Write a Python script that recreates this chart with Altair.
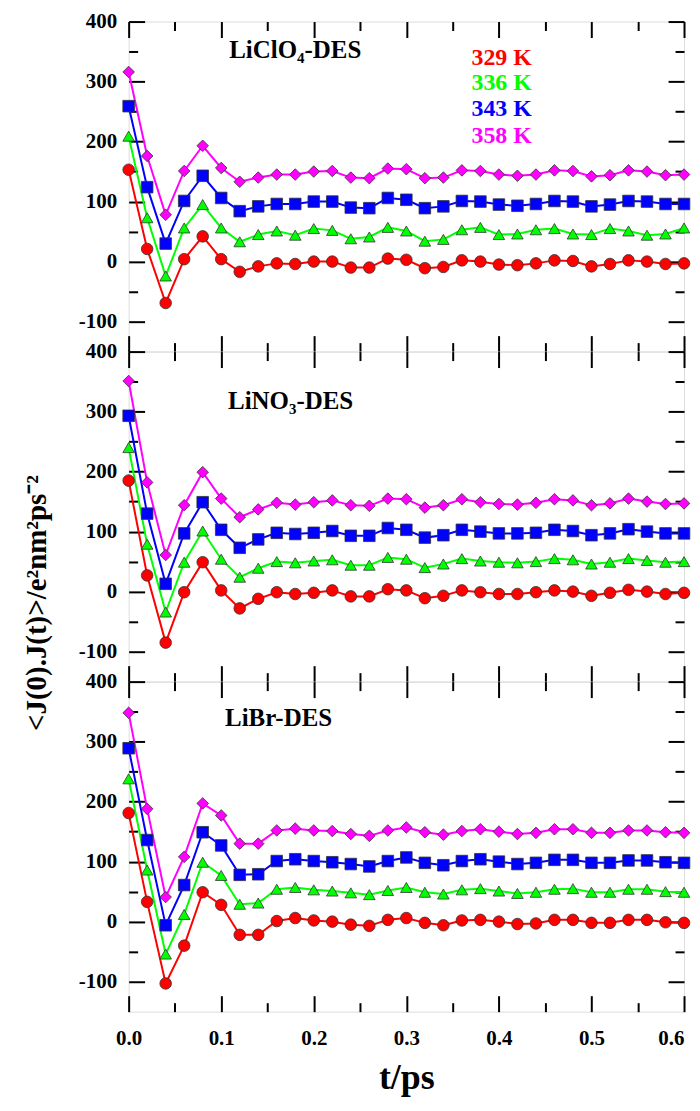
import altair as alt
import pandas as pd

# ---------------- data ----------------
t_ps = [0.00, 0.02, 0.04, 0.06, 0.08, 0.10, 0.12, 0.14, 0.16, 0.18, 0.20,
        0.22, 0.24, 0.26, 0.28, 0.30, 0.32, 0.34, 0.36, 0.38, 0.40,
        0.42, 0.44, 0.46, 0.48, 0.50, 0.52, 0.54, 0.56, 0.58, 0.60]
temps = ["329 K", "336 K", "343 K", "358 K"]
colors = ["#FF0000", "#00FF00", "#0000FF", "#FF00FF"]
shapes = ["circle", "triangle-up", "square", "diamond"]
marker_sizes = [135, 135, 110, 180]
panel_names = ["LiClO₄-DES", "LiNO₃-DES", "LiBr-DES"]
y_title = "<J(0).J(t)>/e²nm²ps⁻²"
x_title = "t/ps"

liclo4_329 = [153, 21, -69, 4, 42, 4, -17, -8, -3, -4, 0, 0, -10, -10, 5, 3, -11, -9, 2, 0, -5, -6, -3, 2, 1, -8, -4, 2, 0, -4, -3]
liclo4_336 = [209, 73, -24, 56, 95, 56, 33, 45, 51, 44, 55, 52, 38, 41, 57, 51, 34, 37, 53, 57, 45, 46, 53, 55, 46, 45, 55, 51, 44, 46, 56]
liclo4_343 = [259, 124, 30, 101, 143, 106, 84, 92, 96, 96, 100, 100, 90, 89, 106, 103, 89, 92, 101, 100, 95, 93, 96, 101, 100, 92, 95, 101, 100, 96, 96]
liclo4_358 = [316, 176, 78, 151, 193, 156, 133, 140, 145, 145, 150, 151, 140, 139, 155, 154, 139, 140, 152, 151, 145, 143, 145, 152, 151, 142, 144, 152, 150, 144, 145]

lino3_329 = [185, 27, -85, -1, 49, 2, -28, -12, -1, -4, -2, 2, -8, -8, 4, 2, -11, -7, 2, -1, -4, -4, -1, 2, 0, -7, -2, 3, 0, -4, -2]
lino3_336 = [240, 79, -34, 49, 101, 54, 24, 39, 50, 48, 51, 53, 44, 44, 57, 54, 40, 46, 55, 51, 49, 48, 50, 55, 53, 46, 49, 55, 52, 49, 50]
lino3_343 = [293, 130, 13, 97, 149, 103, 73, 87, 98, 96, 98, 101, 93, 93, 106, 103, 90, 94, 103, 100, 97, 97, 98, 103, 101, 94, 97, 104, 100, 97, 97]
lino3_358 = [351, 182, 61, 144, 199, 155, 124, 137, 148, 145, 149, 152, 144, 143, 155, 154, 140, 144, 154, 149, 146, 145, 148, 154, 152, 144, 147, 155, 150, 146, 147]

libr_329 = [181, 33, -103, -40, 49, 28, -22, -22, 1, 6, 2, 0, -5, -7, 3, 6, -2, -6, 2, 3, 0, -4, -3, 3, 3, -2, -2, 3, 3, -1, -2]
libr_336 = [238, 86, -54, 12, 99, 77, 29, 31, 54, 57, 53, 51, 48, 45, 52, 57, 49, 46, 53, 55, 51, 47, 49, 54, 55, 49, 49, 54, 54, 50, 49]
libr_343 = [289, 136, -6, 61, 149, 127, 78, 79, 101, 104, 101, 99, 96, 92, 101, 107, 98, 94, 101, 104, 100, 96, 98, 103, 103, 98, 98, 102, 102, 99, 98]
libr_358 = [348, 188, 41, 108, 197, 177, 130, 130, 152, 155, 152, 151, 146, 143, 152, 157, 149, 145, 151, 154, 150, 146, 148, 154, 154, 148, 148, 152, 152, 149, 148]

panel_series = [
    [liclo4_329, liclo4_336, liclo4_343, liclo4_358],
    [lino3_329, lino3_336, lino3_343, lino3_358],
    [libr_329, libr_336, libr_343, libr_358],
]

# annotation anchors (data units)
name_t = [0.18, 0.175, 0.162]
name_v = [352, 318, 339]
legend_t = [0.403, 0.403, 0.403, 0.403]
legend_v = [340, 297, 254, 210]

x_major = [0.0, 0.1, 0.2, 0.3, 0.4, 0.5, 0.6]
x_minor = [0.05, 0.15, 0.25, 0.35, 0.45, 0.55]
y_major = [-100, 0, 100, 200, 300, 400]
y_minor = [-50, 50, 150, 250, 350]

FONT = "Liberation Serif"
W, H = 557, 331
xdom = [0, 0.6]
ydom = [-150, 400]
MAJ, MIN = 16, 9

cscale = alt.Scale(domain=temps, range=colors)
sscale = alt.Scale(domain=temps, range=shapes)
zscale = alt.Scale(domain=temps, range=marker_sizes)


def axis(values, size, orient, labels=False, title=None, **kw):
    opts = dict(values=values, tickSize=size, offset=-size, orient=orient,
                domain=False, grid=False, ticks=True, tickColor="black",
                tickWidth=2, labels=labels, labelFont=FONT, labelFontSize=21,
                labelFontWeight="bold", labelColor="black", labelFlush=False,
                labelOverlap=False, labelPadding=12,
                labelExpr="replace(datum.label, '\u2212', '-')",
                titleFont=FONT, titleFontWeight="bold", titleColor="black")
    opts.update(kw)
    opts["title"] = title
    return alt.Axis(**opts)


def panel(k):
    rows = []
    for ti, ser in zip(temps, panel_series[k]):
        for tt, vv in zip(t_ps, ser):
            rows.append({"t": tt, "v": vv, "temp": ti})
    df = pd.DataFrame(rows)
    bottom = k == 2
    middle = k == 1

    xs = alt.Scale(domain=xdom, nice=False, zero=False)
    ys = alt.Scale(domain=ydom, nice=False, zero=False)

    x_main = alt.X("t:Q", scale=xs, axis=axis(
        x_major, MAJ, "bottom", labels=bottom, format=".1f",
        title=x_title if bottom else None, titleFontSize=36,
        titlePadding=12, labelPadding=16,
        labelAlign={"condition": {"test": "datum.value >= 0.6", "value": "right"},
                    "value": "center"}))
    y_main = alt.Y("v:Q", scale=ys, axis=axis(y_major, MAJ, "left", labels=True))

    base = alt.Chart(df)
    lines = base.mark_line(strokeWidth=2).encode(
        x=x_main, y=y_main,
        color=alt.Color("temp:N", scale=cscale, legend=None))
    pts = base.mark_point(filled=True, opacity=1,
                          stroke="#333333", strokeWidth=0.8).encode(
        x=alt.X("t:Q", scale=xs), y=alt.Y("v:Q", scale=ys),
        fill=alt.Color("temp:N", scale=cscale, legend=None),
        shape=alt.Shape("temp:N", scale=sscale, legend=None),
        size=alt.Size("temp:N", scale=zscale, legend=None))

    name_df = pd.DataFrame({"t": [name_t[k]], "v": [name_v[k]],
                            "label": [panel_names[k]]})
    name_txt = alt.Chart(name_df).mark_text(
        font=FONT, fontSize=25, fontWeight="bold", color="black",
        align="center", baseline="middle").encode(
        x=alt.X("t:Q", scale=xs), y=alt.Y("v:Q", scale=ys), text="label:N")

    layers = [lines, pts, name_txt]
    if k == 0:
        leg_df = pd.DataFrame({"t": legend_t, "v": legend_v, "temp": temps})
        leg = alt.Chart(leg_df).mark_text(
            font=FONT, fontSize=24, fontWeight="bold",
            align="center", baseline="middle").encode(
            x=alt.X("t:Q", scale=xs), y=alt.Y("v:Q", scale=ys),
            text="temp:N",
            color=alt.Color("temp:N", scale=cscale, legend=None))
        layers.append(leg)
    if middle:
        yt = alt.Chart(pd.DataFrame({"label": [y_title]})).mark_text(
            font=FONT, fontSize=29, fontWeight="bold", color="black",
            angle=270, align="left", baseline="alphabetic").encode(
            x=alt.value(-83), y=alt.value(H / 2 + 215), text="label:N")
        layers.append(yt)
    main = alt.layer(*layers)

    def ghost(xa, ya):
        return base.mark_point(opacity=0).encode(
            x=alt.X("t:Q", scale=alt.Scale(domain=xdom, nice=False, zero=False), axis=xa),
            y=alt.Y("v:Q", scale=alt.Scale(domain=ydom, nice=False, zero=False), axis=ya))

    g1 = ghost(axis(x_minor, MIN, "bottom"), axis(y_minor, MIN, "left"))
    g2 = ghost(axis(x_major, MAJ, "top"), axis(y_major, MAJ, "right"))
    g3 = ghost(axis(x_minor, MIN, "top"), axis(y_minor, MIN, "right"))

    return alt.layer(main, g1, g2, g3).resolve_scale(
        x="independent", y="independent").properties(width=W, height=H)


chart = alt.vconcat(panel(0), panel(1), panel(2), spacing=0,
                    bounds="flush").properties(
    padding={"left": 14, "top": 0, "right": 0, "bottom": 0}
).configure_view(stroke="black", strokeWidth=2).configure(background="white")

chart.save("out.html", embed_options={"renderer": "svg", "actions": False})
